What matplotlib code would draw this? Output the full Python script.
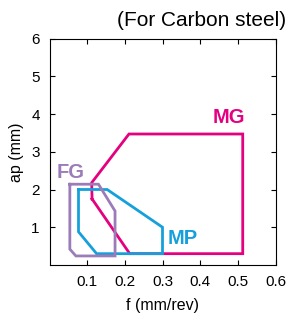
import matplotlib.pyplot as plt

plt.rcParams['font.family'] = ['Liberation Sans', 'DejaVu Sans']

# chipbreaker application ranges (f, ap)
mg_f = [0.113, 0.213, 0.513, 0.513, 0.211, 0.112, 0.113]
mg_ap = [1.75, 0.3, 0.3, 3.47, 3.47, 2.18, 1.75]

mp_f = [0.077, 0.153, 0.3, 0.3, 0.125, 0.077, 0.077]
mp_ap = [2.0, 2.0, 1.0, 0.3, 0.3, 0.88, 2.0]

fg_f = [0.054, 0.13, 0.174, 0.174, 0.07, 0.054, 0.054]
fg_ap = [2.14, 2.14, 1.43, 0.24, 0.24, 0.42, 2.14]

xticks = [0.1, 0.2, 0.3, 0.4, 0.5, 0.6]
yticks = [1, 2, 3, 4, 5, 6]

c_mg = '#e4007f'
c_mp = '#16a0db'
c_fg = '#9b7cb9'

fig = plt.figure(figsize=(2.88, 3.16), dpi=100)
ax = fig.add_axes([49.5 / 288, 1 - 265 / 316, 226 / 288, 226.5 / 316])

ax.plot(mg_f, mg_ap, color=c_mg, lw=2, solid_joinstyle='miter')
ax.plot(mp_f, mp_ap, color=c_mp, lw=2, solid_joinstyle='miter')
ax.plot(fg_f, fg_ap, color=c_fg, lw=2, solid_joinstyle='miter')

ax.text(0.475, 3.9, 'MG', color=c_mg, fontsize=14.5, fontweight='bold', ha='center', va='center')
ax.text(0.355, 0.71, 'MP', color=c_mp, fontsize=14.5, fontweight='bold', ha='center', va='center')
ax.text(0.057, 2.44, 'FG', color=c_fg, fontsize=14.5, fontweight='bold', ha='center', va='center')

ax.set_xlim(0, 0.6)
ax.set_ylim(0, 6)
ax.set_xticks(xticks)
ax.set_xticklabels([str(t) for t in xticks])
ax.set_yticks(yticks)
ax.tick_params(direction='in', top=True, right=True, length=3.5, labelsize=11, width=0.8, pad=7)
ax.set_xlabel('f (mm/rev)', fontsize=11.5, labelpad=7)
ax.set_ylabel('ap (mm)', fontsize=11.5, labelpad=5)

fig.text(286 / 288, 1 - 20 / 316, '(For Carbon steel)', fontsize=15, ha='right', va='center')

fig.savefig('out.png', dpi=100)
